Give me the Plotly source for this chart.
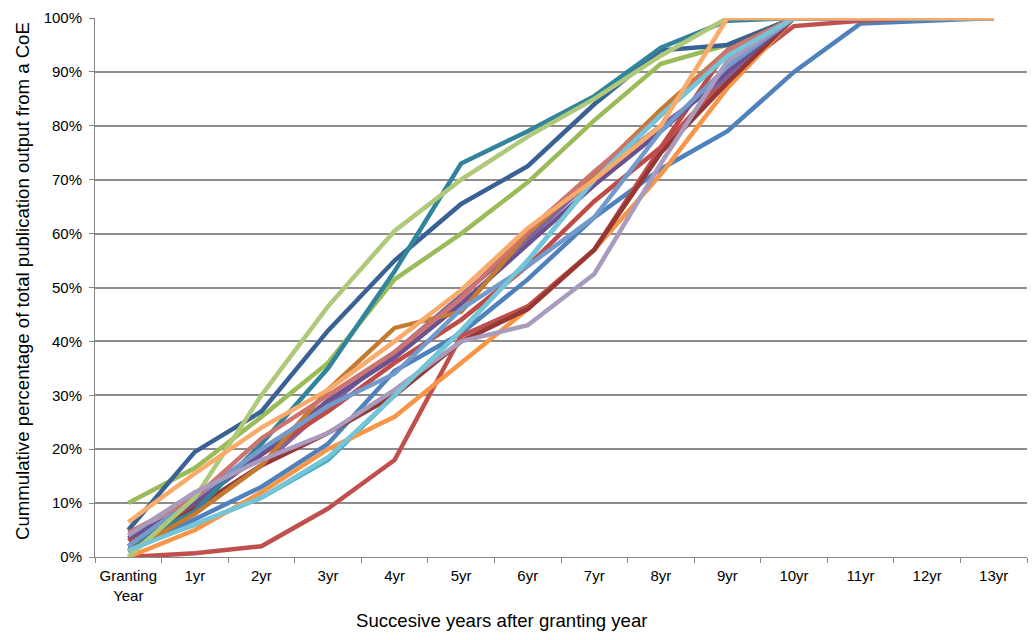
import plotly.graph_objects as go

# Category axis: granting year followed by 13 successive years
years = ["Granting<br>Year", "1yr", "2yr", "3yr", "4yr", "5yr", "6yr",
         "7yr", "8yr", "9yr", "10yr", "11yr", "12yr", "13yr"]

# Cumulative share (%) of each centre's total publication output
coe_01 = [1, 7, 13, 21, 34.5, 41.5, 51.5, 63, 72, 79, 90, 99, 99.5, 100]
coe_02 = [0, 0.7, 2, 9, 18, 41, 46.5, 57, 76, 89, 98.5, 99.5, 100, 100]
coe_03 = [10, 16.5, 26, 36, 51.5, 60, 69.5, 81, 91.5, 95, 100, 100, 100, 100]
coe_04 = [4, 9, 17, 28, 38, 48.5, 59, 70.5, 80, 89, 100, 100, 100, 100]
coe_05 = [1.5, 6, 11, 18, 30, 42, 55, 70, 82, 93, 100, 100, 100, 100]
coe_06 = [0, 5, 12, 20, 26, 36, 46, 57, 71, 87, 100, 100, 100, 100]
coe_07 = [5, 19.5, 27, 42, 55, 65.5, 72.5, 84, 94, 95, 100, 100, 100, 100]
coe_08 = [2, 9, 17, 23, 30, 40, 46, 57, 75, 88, 100, 100, 100, 100]
coe_09 = [3, 10, 19, 27, 36, 44, 54, 66, 76, 94, 100, 100, 100, 100]
coe_10 = [3.5, 10, 19, 29, 37, 47, 58, 69, 79, 90, 100, 100, 100, 100]
coe_11 = [2, 8.5, 21, 35, 53, 73, 79, 85.5, 94.5, 99.5, 100, 100, 100, 100]
coe_12 = [1, 8, 17, 31, 42.5, 45.5, 60, 71, 83, 94, 100, 100, 100, 100]
coe_13 = [2, 11, 20, 28, 34, 46, 54, 63, 79, 91, 100, 100, 100, 100]
coe_14 = [4.5, 11, 22, 30, 38, 48, 60.5, 71.5, 82, 94, 100, 100, 100, 100]
coe_15 = [0, 11, 30, 46.5, 60.5, 70, 78, 85, 93, 100, 100, 100, 100, 100]
coe_16 = [4, 12, 18, 23, 31, 40, 43, 52.5, 73, 92, 100, 100, 100, 100]
coe_17 = [1.2, 6, 11, 18.5, 30, 42, 55, 70, 82, 93, 100, 100, 100, 100]
coe_18 = [6.5, 15.5, 24, 31, 40, 49.5, 61, 70, 80, 100, 100, 100, 100, 100]

series = [coe_01, coe_02, coe_03, coe_04, coe_05, coe_06, coe_07, coe_08, coe_09,
          coe_10, coe_11, coe_12, coe_13, coe_14, coe_15, coe_16, coe_17, coe_18]

colors = ["#4F81BD", "#C0504D", "#9BBB59", "#8064A2", "#4BACC6", "#F79646",
          "#3A6194", "#953735", "#BE4B48", "#6A5290", "#31849B", "#C47A30",
          "#729ACA", "#CD7371", "#AFC97A", "#A99BBD", "#75C5D8", "#F9AB6B"]

fig = go.Figure()
for vals, col in zip(series, colors):
    fig.add_trace(go.Scatter(x=years, y=vals, mode="lines",
                             line=dict(color=col, width=4.5),
                             showlegend=False, hoverinfo="skip"))

tick_font = dict(family="Liberation Sans, Arial, sans-serif", size=15, color="#000000")
title_font = dict(family="Liberation Sans, Arial, sans-serif", size=18.6, color="#000000")

fig.update_layout(
    width=1033, height=640,
    margin=dict(l=95, r=6, t=18, b=83),
    paper_bgcolor="white", plot_bgcolor="white",
    font=tick_font,
    xaxis=dict(type="category", range=[-0.5, 13.5], tickson="boundaries",
               ticks="outside", ticklen=5, tickcolor="#868686", tickwidth=1,
               showline=True, linecolor="#868686", linewidth=1,
               showgrid=False, tickfont=tick_font, ticklabelstandoff=5,
               fixedrange=True),
    yaxis=dict(range=[0, 100], dtick=10, ticksuffix="%",
               ticks="outside", ticklen=5, tickcolor="#868686",
               showline=True, linecolor="#868686", linewidth=1,
               showgrid=True, gridcolor="#8C8C8C", gridwidth=1.6,
               zeroline=False, tickfont=tick_font, ticklabelstandoff=4,
               fixedrange=True),
    annotations=[
        dict(text="Succesive years after granting year", xref="paper", yref="paper",
             x=(501 - 95) / 932, y=-(620 - 557) / 539, xanchor="center", yanchor="middle",
             showarrow=False, font=title_font),
        dict(text="Cummulative percentage of total publication output from a CoE",
             xref="paper", yref="paper", x=-(95 - 22) / 932, y=(557 - 281) / 539,
             textangle=-90, xanchor="center", yanchor="middle", showarrow=False,
             font=title_font),
    ],
)

fig.write_html("out.html")
